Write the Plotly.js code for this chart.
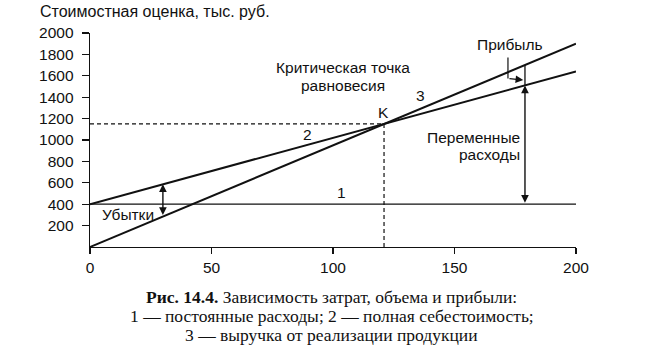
<!DOCTYPE html>
<html>
<head>
<meta charset="utf-8">
<script src="https://cdn.plot.ly/plotly-3.0.1.min.js"></script>
<style>
html,body{margin:0;padding:0;background:#fff;}
#chart{width:659px;height:358px;}
</style>
</head>
<body>
<div id="chart"></div>
<script>
// ---- data ----
const volume = [0, 200];
const fixedCosts = [400, 400];      // 1 — постоянные расходы
const totalCost = [400, 1640];      // 2 — полная себестоимость
const revenue = [0, 1900];          // 3 — выручка
const breakEvenPoint = [121, 1150]; // K
const lossVolume = [30];
const profitVolume = [179];
const xTicks = [0, 50, 100, 150, 200];
const yTicks = [200, 400, 600, 800, 1000, 1200, 1400, 1600, 1800, 2000];

function lineAt(series, x) {
  return series[0] + (series[1] - series[0]) * (x - volume[0]) / (volume[1] - volume[0]);
}

const black = '#111';
const sans = 'Liberation Sans, Arial, sans-serif';
const serif = 'Liberation Serif, Times New Roman, serif';

const traces = [
  {x: volume, y: fixedCosts, mode: 'lines', line: {color: black, width: 1.3}},
  {x: volume, y: totalCost, mode: 'lines', line: {color: black, width: 2}},
  {x: volume, y: revenue, mode: 'lines', line: {color: black, width: 2}},
  {x: [volume[0], breakEvenPoint[0]], y: [breakEvenPoint[1], breakEvenPoint[1]], mode: 'lines', line: {color: black, width: 1.2, dash: '4px,3px'}},
  {x: [breakEvenPoint[0], breakEvenPoint[0]], y: [0, breakEvenPoint[1]], mode: 'lines', line: {color: black, width: 1.2, dash: '4px,3px'}},
  // profit segment
  {x: [profitVolume[0], profitVolume[0]], y: [lineAt(totalCost, profitVolume[0]), lineAt(revenue, profitVolume[0])], mode: 'lines', line: {color: black, width: 1.3}},
  // profit leader
  {x: [172, 172], y: [1770, 1575], mode: 'lines', line: {color: black, width: 1.2}}
];

function txt(x, y, text, opts) {
  return Object.assign({x: x, y: y, xref: 'x', yref: 'y', text: text, showarrow: false,
    font: {family: sans, size: 15.5, color: black}}, opts || {});
}
function arrow(x, y, ax, ay, both) {
  return {x: x, y: y, ax: ax, ay: ay, xref: 'x', yref: 'y', axref: 'x', ayref: 'y',
    text: '', showarrow: true, arrowhead: 2, arrowsize: 1.1, arrowwidth: 1.4, arrowcolor: black,
    arrowside: both ? 'end+start' : 'end', startarrowhead: 2, startarrowsize: 1.1};
}

const lv = lossVolume[0], pv = profitVolume[0];
const annotations = [
  txt(104, 1673, 'Критическая точка'),
  txt(104, 1514, 'равновесия'),
  txt(120.6, 1255, 'K'),
  txt(136, 1420, '3'),
  txt(89.7, 1047, '2'),
  txt(103.7, 505, '1'),
  txt(15.5, 300, 'Убытки'),
  txt(172.8, 1888, 'Прибыль'),
  txt(177.6, 1019, 'Переменные', {xanchor: 'right'}),
  txt(177.6, 860, 'расходы', {xanchor: 'right'}),
  arrow(lv, lineAt(totalCost, lv), lv, lineAt(revenue, lv), true),
  arrow(pv, lineAt(totalCost, pv), pv, fixedCosts[0], true),
  arrow(178.3, 1560, 172, 1575, false),
  {xref: 'paper', yref: 'paper', x: 0.497, y: -0.234, showarrow: false, yanchor: 'middle',
    text: '<b>Рис. 14.4.</b> Зависимость затрат, объема и прибыли:', font: {family: serif, size: 17.5, color: black}},
  {xref: 'paper', yref: 'paper', x: 0.497, y: -0.322, showarrow: false, yanchor: 'middle',
    text: '1 — постоянные расходы; 2 — полная себестоимость;', font: {family: serif, size: 17.5, color: black}},
  {xref: 'paper', yref: 'paper', x: 0.497, y: -0.411, showarrow: false, yanchor: 'middle',
    text: '3 — выручка от реализации продукции', font: {family: serif, size: 17.5, color: black}}
];

const layout = {
  width: 659, height: 358,
  margin: {l: 90, r: 83, t: 33, b: 111},
  paper_bgcolor: '#fff', plot_bgcolor: '#fff',
  showlegend: false,
  title: {text: 'Стоимостная оценка, тыс. руб.', x: 40/659, xanchor: 'left', xref: 'container',
    y: 1 - 11/358, yanchor: 'middle', yref: 'container', font: {family: sans, size: 16, color: black}},
  xaxis: {range: [0, 200], tickvals: xTicks, ticktext: xTicks.map(String), showgrid: false, zeroline: false,
    showline: true, linecolor: black, linewidth: 1.3, ticks: 'outside', ticklen: 6, tickcolor: black, tickwidth: 1.3,
    tickfont: {family: sans, size: 15.5, color: black}, fixedrange: true},
  yaxis: {range: [0, 2000], tickvals: yTicks, ticktext: yTicks.map(String), showgrid: false, zeroline: false,
    showline: true, linecolor: black, linewidth: 1.3, ticks: 'outside', ticklen: 7, tickcolor: black, tickwidth: 1.3,
    ticklabelstandoff: 5,
    tickfont: {family: sans, size: 15.5, color: black}, fixedrange: true},
  annotations: annotations,
  hovermode: false
};

Plotly.newPlot('chart', traces, layout, {displayModeBar: false, staticPlot: true});
</script>
</body>
</html>
